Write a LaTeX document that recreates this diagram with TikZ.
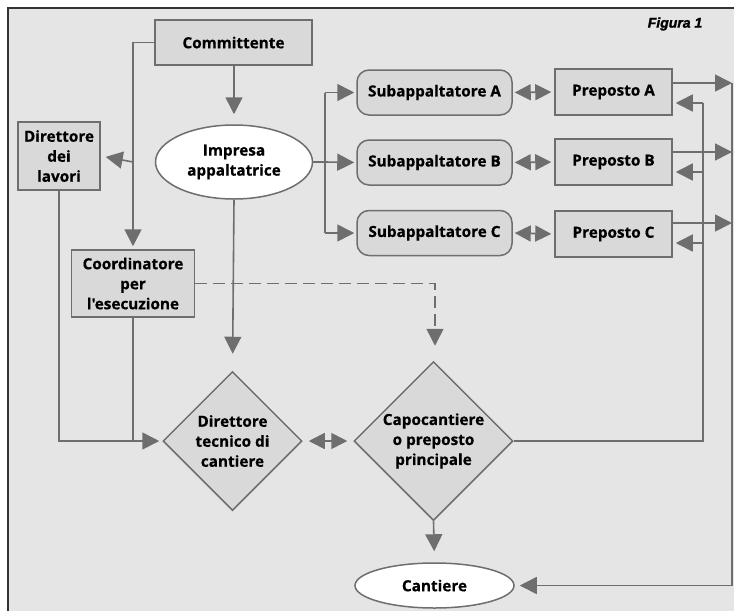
\documentclass[tikz,border=0pt]{standalone}
\usepackage{fontspec}
\setmainfont{Open Sans}[Ligatures=TeXOff, BoldFeatures={FakeBold=0.6}]
\newfontface\figface{Liberation Sans Bold Italic}[FakeBold=1.6]
\usetikzlibrary{shapes.geometric,arrows.meta,calc}
\definecolor{bgc}{HTML}{E5E5E5}
\definecolor{boxc}{HTML}{D9D9D9}
\definecolor{linec}{HTML}{6E6E6E}
\definecolor{framec}{HTML}{333333}
\tikzset{
  lbl/.style={font=\bfseries\fontsize{15.3}{20}\selectfont, text=black, align=center, inner sep=0pt},
  rbox/.style={lbl, rectangle, draw=linec, line width=1.5pt, fill=boxc},
  sbox/.style={lbl, rectangle, rounded corners=12pt, draw=linec, line width=1.5pt, fill=boxc, minimum width=155pt, minimum height=45pt},
  pbox/.style={rbox, minimum width=117pt, minimum height=46pt},
  ell/.style={lbl, ellipse, draw=linec, line width=1.5pt, fill=white},
  dia/.style={lbl, diamond, draw=linec, line width=1.5pt, fill=boxc, aspect=1, inner sep=-6pt},
  conn/.style={draw=linec, line width=1.6pt},
  arr/.style={conn, -{Triangle[length=17pt,width=17pt]}},
  darr/.style={conn, {Triangle[length=16pt,width=16pt]}-{Triangle[length=16pt,width=16pt]}},
}
\begin{document}
\begin{tikzpicture}[x=1pt,y=-1pt]
\useasboundingbox (0,0) rectangle (734,611);
\fill[white] (0,0) rectangle (734,611);
\fill[bgc] (8,8) rectangle (734,611);
\draw[framec, line width=1.5pt] (8,611) -- (8,8) -- (734,8);

\node[font=\figface\fontsize{14}{16}\selectfont, inner sep=0pt] (fig) at (675,24) {Figura 1};

\node[rbox, minimum width=157pt, minimum height=45pt] (comm) at (233.5,42.5) {Committente};
\node[ell, minimum width=157pt, minimum height=74pt] (imp) at (234,162) {Impresa\\appaltatrice};
\node[rbox, minimum width=82pt, minimum height=68pt] (ddl) at (59,156) {Direttore\\dei\\lavori};
\node[rbox, minimum width=123pt, minimum height=67pt] (coord) at (133,283.5) {Coordinatore\\per\\l'esecuzione};

\node[sbox] (subA) at (434.5,92.5) {Subappaltatore A};
\node[sbox] (subB) at (434.5,162.5) {Subappaltatore B};
\node[sbox] (subC) at (434.5,233) {Subappaltatore C};

\node[pbox] (prepA) at (613.5,92) {Preposto A};
\node[pbox] (prepB) at (613.5,162) {Preposto B};
\node[pbox] (prepC) at (613.5,234) {Preposto C};

\node[dia, minimum width=139pt, minimum height=139pt] (dtc) at (232.5,441) {Direttore\\tecnico di\\cantiere};
\node[dia, minimum width=159pt, minimum height=159pt] (capo) at (433.5,441) {Capocantiere\\o preposto\\principale};
\node[ell, minimum width=159pt, minimum height=45pt] (cant) at (434.5,585.5) {Cantiere};

\coordinate (j) at (325,162);
\coordinate (busL) at (703,441);
\coordinate (busR) at (732,585.5);

% Committente connections
\draw[arr, shorten >=10pt] (comm.south -| imp.north) -- (imp.north);
\draw[arr, shorten >=3pt] (comm.west) -| (coord.north);
\draw[arr, shorten >=5pt] (coord.north |- imp.west) -- (ddl.east);

% Impresa to subcontractors
\draw[conn] (imp.east) -- (j);
\draw[conn] (j |- subA.west) -- (j |- subC.west);
\draw[arr, shorten >=2pt] (j |- subA.west) -- (subA.west);
\draw[arr, shorten >=2pt] (j) -- (subB.west);
\draw[arr, shorten >=2pt] (j |- subC.west) -- (subC.west);

% sub <-> preposto
\draw[darr, shorten <=2pt, shorten >=3pt] (subA.east) -- (prepA.west);
\draw[darr, shorten <=2pt, shorten >=3pt] (subB.east) -- (prepB.west);
\draw[darr, shorten <=2pt, shorten >=3pt] (subC.east) -- (prepC.west);

% Impresa down
\draw[arr, shorten >=17pt] (imp.south) -- (dtc.north);
% dashed coordinator
\draw[arr, dash pattern=on 12pt off 6pt, shorten >=15pt] (coord.east) -| ([xshift=1.5pt]capo.north);
% DL and coordinator to DTC
\draw[arr, shorten >=3pt] (ddl.south) |- (dtc.west);
\draw[conn] (coord.south) -- (coord.south |- dtc.west);
% DTC <-> capo
\draw[darr, shorten <=6pt, shorten >=6pt] (dtc.east) -- (capo.west);
% capo to cantiere
\draw[arr, shorten >=11pt] (capo.south) -- (cant.north);

% capo to left bus, feeding preposti
\draw[conn] (capo.east) -- (busL) -- ([yshift=-11pt]prepA.east -| busL);
\draw[arr, shorten >=3pt] ([yshift=-11pt]prepA.east -| busL) -- ([yshift=-11pt]prepA.east);
\draw[arr, shorten >=3pt] ([yshift=-10pt]prepB.east -| busL) -- ([yshift=-10pt]prepB.east);
\draw[arr, shorten >=3pt] ([yshift=-9pt]prepC.east -| busL) -- ([yshift=-9pt]prepC.east);

% preposti outputs to right bus, down to cantiere
\draw[arr] ([yshift=9pt]prepA.east) -- ([yshift=9pt]prepA.east -| busR);
\draw[arr] ([yshift=10pt]prepB.east) -- ([yshift=10pt]prepB.east -| busR);
\draw[arr] ([yshift=11pt]prepC.east) -- ([yshift=11pt]prepC.east -| busR);
\draw[conn] ([yshift=9pt]prepA.east -| busR) -- (busR);
\draw[arr, shorten >=5pt] (busR) -- (cant.east);
\end{tikzpicture}
\end{document}
